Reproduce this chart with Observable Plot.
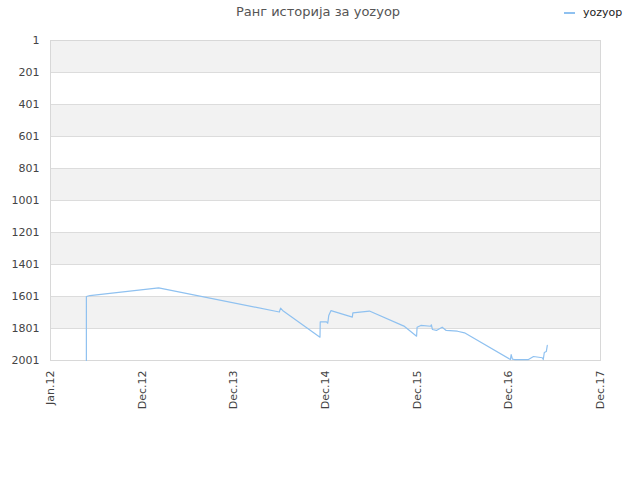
<!DOCTYPE html>
<html><head><meta charset="utf-8">
<script src="https://cdn.jsdelivr.net/npm/d3@7"></script>
<script src="https://cdn.jsdelivr.net/npm/@observablehq/plot@0.6"></script>
<style>
body{margin:0;background:#fff}
#wrap{position:relative;width:640px;height:480px;font-family:"DejaVu Sans",sans-serif}
#wrap svg{display:block}
#title{position:absolute;left:0;width:636px;top:4px;text-align:center;font-size:13px;color:#555}
#legend{position:absolute;left:564px;top:6px;font-size:11px;color:#222;display:flex;align-items:center}
#legend .sw{display:inline-block;width:11px;height:2px;background:#8fc1f0;margin-right:8px}
</style></head>
<body>
<div id="wrap"><div id="title">Ранг историја за yozyop</div><div id="legend"><span class="sw"></span>yozyop</div></div>
<script>
const seriesName = "yozyop";
const dates = ["2012-05-23","2012-05-23","2012-06-06","2013-03-07","2014-07-01","2014-07-06","2014-07-14","2014-12-10","2014-12-11","2015-01-05","2015-01-10","2015-01-14","2015-01-23","2015-04-18","2015-04-20","2015-06-25","2015-11-12","2015-12-30","2016-01-01","2016-01-16","2016-02-24","2016-02-27","2016-03-02","2016-03-18","2016-04-10","2016-04-26","2016-06-10","2016-07-08","2017-01-07","2017-01-10","2017-01-15","2017-01-23","2017-03-20","2017-04-09","2017-05-14","2017-05-18","2017-05-22","2017-05-30","2017-06-03"];
const ranks = [2001,1601,1595,1547,1698,1674,1688,1855,1760,1760,1768,1720,1689,1730,1703,1692,1788,1849,1793,1782,1787,1778,1807,1813,1793,1813,1818,1828,1995,1964,1992,1995,1995,1976,1984,1995,1951,1945,1907];
const yTicks = [1,201,401,601,801,1001,1201,1401,1601,1801,2001];
const xTickDates = ["2012-01-01","2013-01-01","2014-01-01","2015-01-01","2016-01-01","2017-01-01","2018-01-01"];
const xTickLabels = ["Jan.12","Dec.12","Dec.13","Dec.14","Dec.15","Dec.16","Dec.17"];
const bandStarts = [1,401,801,1201,1601];
const bandEnds = [201,601,1001,1401,1801];

const data = dates.map((d,i)=>({date:new Date(d+"T00:00:00Z"), rank:ranks[i]}));
const bands = bandStarts.map((s,i)=>({y1:s,y2:bandEnds[i]}));
const xt = xTickDates.map(d=>new Date(d+"T00:00:00Z"));

const chart = Plot.plot({
  width:640, height:480,
  marginTop:40, marginLeft:50, marginRight:40, marginBottom:120,
  style:{fontFamily:"DejaVu Sans, sans-serif", fontSize:"11px", color:"#444", background:"#fff"},
  x:{type:"utc", domain:[xt[0], xt[xt.length-1]], ticks:xt, tickFormat:(d,i)=>xTickLabels[i], tickRotate:-90, tickSize:0, tickPadding:10, label:null},
  y:{domain:[1,2001], reverse:true, ticks:yTicks, tickFormat:d=>String(d), tickSize:0, tickPadding:11, label:null},
  marks:[
    Plot.rectY(bands,{x1:xt[0], x2:xt[xt.length-1], y1:"y1", y2:"y2", fill:"#f2f2f2"}),
    Plot.ruleY(yTicks,{stroke:"#dcdcdc"}),
    Plot.frame({stroke:"#d8d8d8"}),
    Plot.line(data,{x:"date", y:"rank", stroke:"#8fc1f0", strokeWidth:1.2}),
  ]
});
document.getElementById("wrap").prepend(chart);
</script>
</body></html>
